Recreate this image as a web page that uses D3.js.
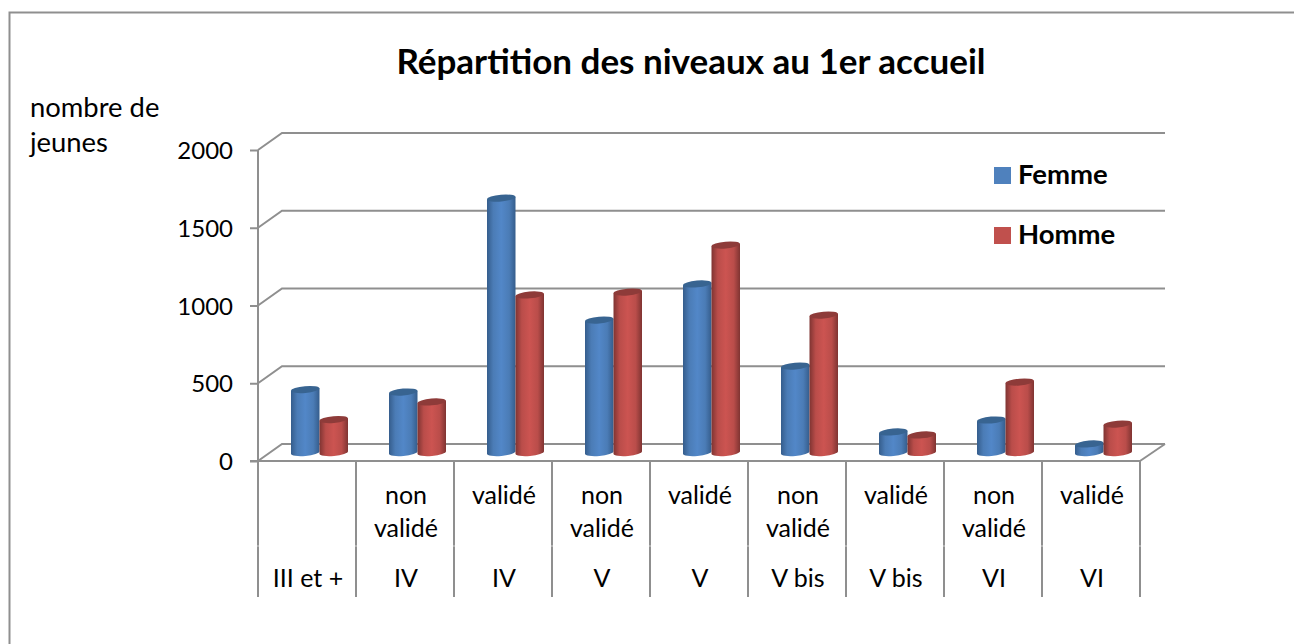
<!DOCTYPE html>
<html><head><meta charset="utf-8">
<script src="https://cdnjs.cloudflare.com/ajax/libs/d3/7.8.5/d3.min.js"></script>
<style>html,body{margin:0;padding:0;background:#fff}svg{display:block}text{font-family:Lato,sans-serif;fill:#000}</style>
</head><body><svg id="c" width="1294" height="644"></svg>
<script>
const groups=["III et +","IV","IV","V","V","V bis","V bis","VI","VI"];
const statuses=["","non validé","validé","non validé","validé","non validé","validé","non validé","validé"];
const femme=[405,389,1636,852,1084,556,132,209,55];
const homme=[212,325,1013,1032,1334,884,113,453,183];
const yTicks=[0,500,1000,1500,2000];
const seriesNames=["Femme","Homme"];

const svg=d3.select("#c");
const W=1294,H=644;
const x0=258,x1=1140,yBase=461,yTop=150,dx=24,dy=-17;
const x=d3.scaleBand().domain(d3.range(groups.length)).range([x0,x1]);
const y=d3.scaleLinear().domain([0,2000]).range([yBase,yTop]);
const grey="#8f8f8f";

const defs=svg.append("defs");
function grad(id,edge,mid,light){
  const g=defs.append("linearGradient").attr("id",id);
  [[0,edge],[.22,mid],[.5,light],[.78,mid],[1,edge]].forEach(([o,c])=>g.append("stop").attr("offset",o).attr("stop-color",c));
}
grad("gF","#355d8c","#4b7cb6","#5287c8");
grad("gH","#7f3432","#ba4d4a","#cc5451");
const colors=[{fill:"url(#gF)",top:"#386491"},{fill:"url(#gH)",top:"#8e3b39"}];

svg.append("path").attr("d",`M9.5,644V12.5H${W}`).attr("fill","none").attr("stroke",grey).attr("stroke-width",2);

const g=svg.append("g").attr("fill","none").attr("stroke",grey).attr("stroke-width",2);
yTicks.forEach(t=>{
  g.append("path").attr("d",`M${x0},${y(t)}L${x0+dx},${y(t)+dy}H${x1+dx+1}`);
});
g.append("path").attr("d",`M${x1},${yBase}L${x1+dx+1},${yBase+dy}`);

svg.append("g").attr("transform",`translate(${x0},0)`)
  .call(d3.axisLeft(y).tickValues(yTicks).tickSize(8).tickPadding(17).tickFormat(d3.format("d")))
  .call(a=>{a.select(".domain").attr("d",`M0,${yTop}V${yBase}`).attr("stroke",grey).attr("stroke-width",2);
    a.selectAll(".tick line").attr("stroke",grey).attr("stroke-width",2);
    a.selectAll("text").attr("font-size",24).attr("font-family","Lato,sans-serif").attr("fill","#000").attr("transform","translate(0,1)");});

const tab=svg.append("g");
tab.append("path").attr("d",`M${x0-8},${yBase}H${x1+1}`).attr("stroke",grey).attr("stroke-width",2);
d3.range(groups.length+1).forEach(i=>{
  const xx=x0+i*x.bandwidth();
  tab.append("path").attr("d",`M${xx},${yBase}V597`).attr("stroke",grey).attr("stroke-width",2);
});
tab.append("path").attr("d",`M${x0-2},546H${x1+2}`).attr("stroke","#fff").attr("stroke-opacity",.6).attr("stroke-width",1);
groups.forEach((d,i)=>{
  const cx=x(i)+x.bandwidth()/2+1;
  tab.append("text").attr("x",cx).attr("y",587).attr("text-anchor","middle").attr("font-size",25).text(d);
  const parts=statuses[i].split(" ");
  if(parts.length==2){
    tab.append("text").attr("x",cx).attr("y",504).attr("text-anchor","middle").attr("font-size",25).text(parts[0]);
    tab.append("text").attr("x",cx).attr("y",537).attr("text-anchor","middle").attr("font-size",25).text(parts[1]);
  }else if(parts[0]){
    tab.append("text").attr("x",cx).attr("y",504).attr("text-anchor","middle").attr("font-size",25).text(parts[0]);
  }
});

const barW=28.5,shift=12.5,depthDrop=-8.5,rx=barW/2,ry=3.4,rot=-5;
const bars=svg.append("g");
[femme,homme].forEach((vals,s)=>{
  vals.forEach((v,i)=>{
    const xl=x(i)+x.bandwidth()/2+shift-barW+s*barW;
    const cx=xl+rx, yt=y(v)+depthDrop, yb=y(0)+depthDrop;
    const c=colors[s];
    const sl=Math.tan(rot*Math.PI/180)*rx;
    bars.append("path")
      .attr("d",`M${xl},${yt-sl}L${xl},${yb-sl}A${rx},${ry} ${rot} 0 0 ${xl+barW},${yb+sl}L${xl+barW},${yt+sl}Z`)
      .attr("fill",c.fill);
    bars.append("ellipse").attr("cx",0).attr("cy",0).attr("rx",rx).attr("ry",ry)
      .attr("transform",`translate(${cx},${yt}) rotate(${rot})`).attr("fill",c.top);
  });
});

const lg=svg.append("g");
[["#4f81bd",167],["#c0504d",227]].forEach(([col,yy],i)=>{
  lg.append("rect").attr("x",994).attr("y",yy).attr("width",17).attr("height",17).attr("fill",col);
  lg.append("text").attr("x",1018).attr("y",yy+17).attr("font-size",27.5).attr("font-weight",700).text(seriesNames[i]);
});

svg.append("text").attr("x",691).attr("y",74).attr("text-anchor","middle").attr("font-size",35).attr("font-weight",700).text("Répartition des niveaux au 1er accueil");
svg.append("text").attr("x",30).attr("y",117).attr("font-size",27.4).text("nombre de");
svg.append("text").attr("x",30).attr("y",152).attr("font-size",27.4).text("jeunes");
</script></body></html>
